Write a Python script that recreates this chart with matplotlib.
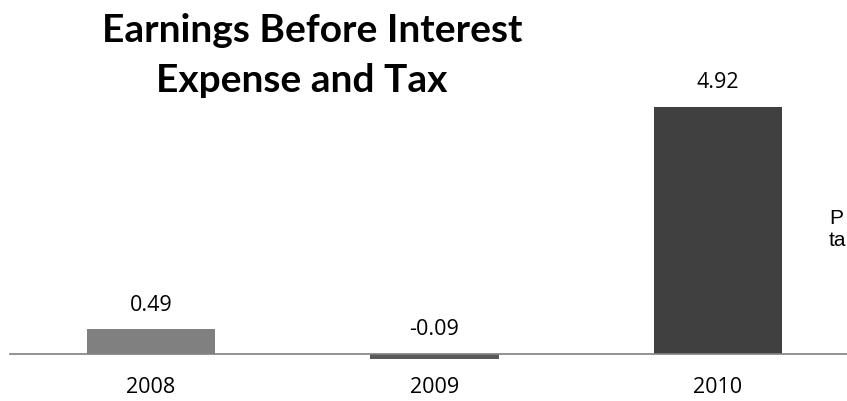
import matplotlib
matplotlib.use("Agg")
import matplotlib.pyplot as plt

years = ['2008', '2009', '2010']
ebit = [0.49, -0.09, 4.92]
bar_colors = ['#808080', '#595959', '#404040']

fig = plt.figure(figsize=(8.47, 4.01), dpi=100)
ax = fig.add_axes([0, 0, 1, 1])

x = range(len(years))
ax.bar(x, ebit, width=0.4515, color=bar_colors)

ax.set_xlim(-0.5326, 2.455)
ax.set_ylim(-0.936, 7.05)

# only the zero line is shown, starting a bit in from the left edge
for side in ['top', 'right', 'left']:
    ax.spines[side].set_visible(False)
ax.spines['bottom'].set_position(('data', 0))
ax.spines['bottom'].set_bounds(-0.497, 2.455)
ax.spines['bottom'].set_color('#808080')
ax.spines['bottom'].set_linewidth(1.2)
ax.set_yticks([])
ax.set_xticks(list(x))
ax.set_xticklabels(years, fontsize=15.5, family='Open Sans')
ax.tick_params(axis='x', length=0, pad=16.5)

for i, v in enumerate(ebit):
    ax.annotate(f"{v:.2f}", xy=(i, max(v, 0)), xytext=(0, 17.5), textcoords='offset points',
                ha='center', va='center', fontsize=15.5, family='Open Sans')

fig.text(312 / 847, 1 - 42 / 401, 'Earnings Before Interest', ha='center', va='baseline',
         fontsize=28, fontweight='bold', family='Lato')
fig.text(302 / 847, 1 - 92 / 401, 'Expense and Tax', ha='center', va='baseline',
         fontsize=28, fontweight='bold', family='Lato')

# side note that runs off the right edge in the original
fig.text(829 / 847, 1 - 218 / 401, 'P', ha='left', va='center', fontsize=15, family='Liberation Sans')
fig.text(829 / 847, 1 - 241 / 401, 'ta', ha='left', va='center', fontsize=15, family='Liberation Sans')

fig.savefig('out.png', dpi=100)
